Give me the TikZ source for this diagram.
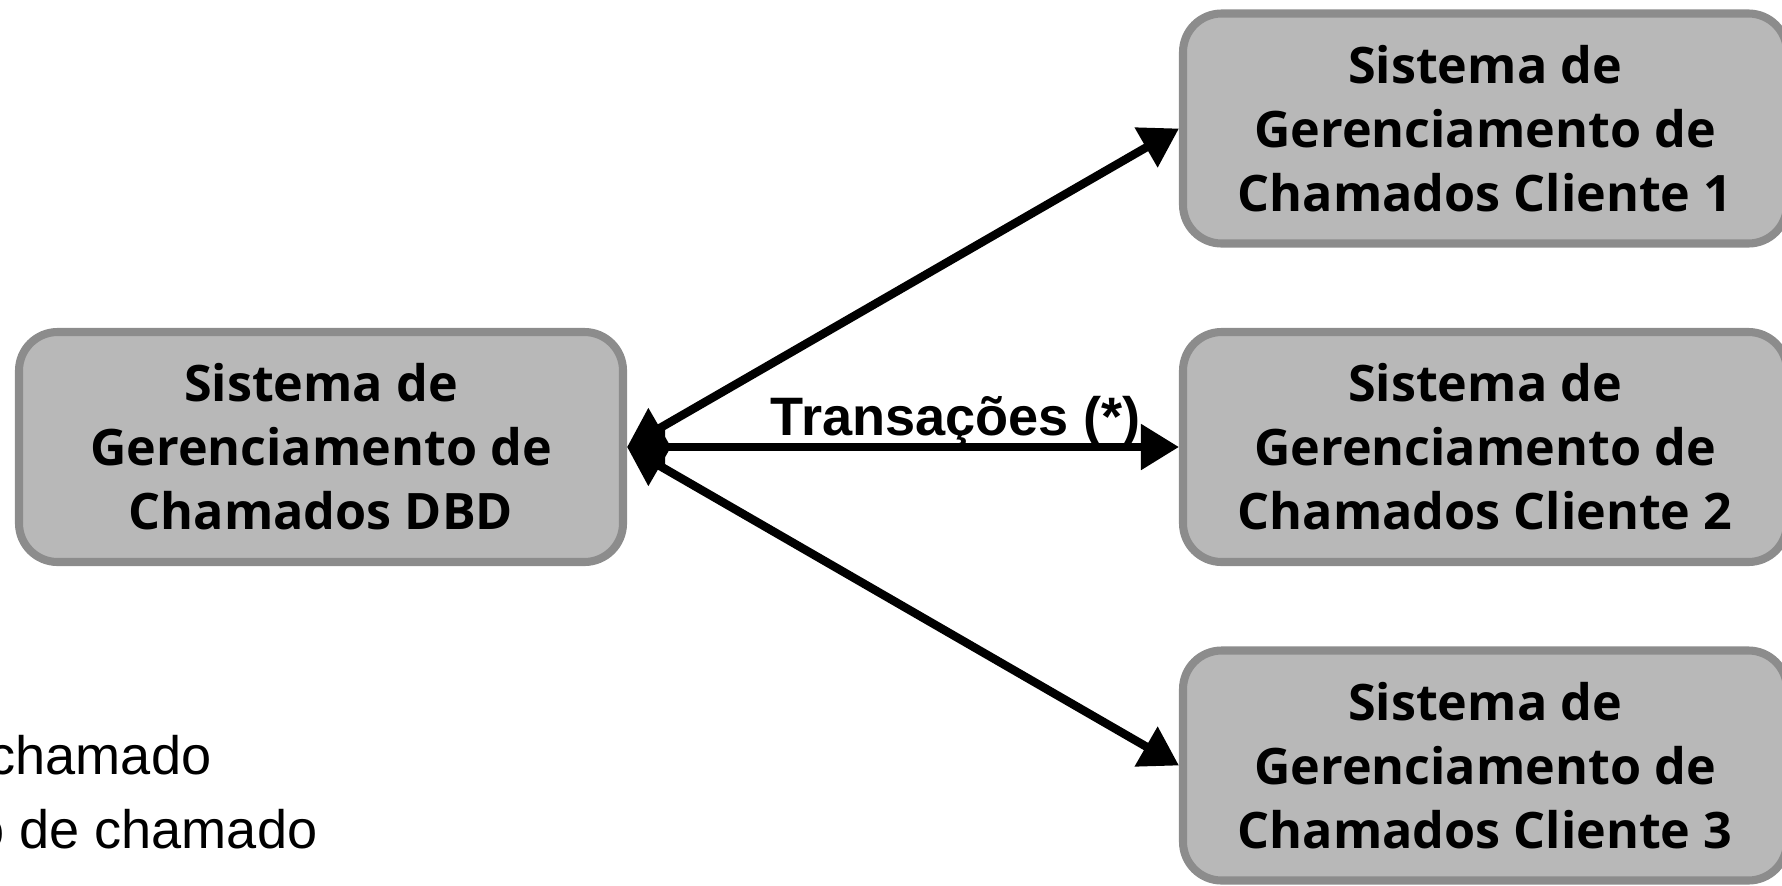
\documentclass[tikz,border=0pt]{standalone}
\usepackage{fontspec}
\setmainfont{Liberation Sans}
\newfontfamily\boxfont{Open Sans}
\usepackage{xcolor}
\usetikzlibrary{arrows.meta}

\definecolor{boxfill}{HTML}{B8B8B8}
\definecolor{boxline}{HTML}{8C8C8C}

\begin{document}
\begin{tikzpicture}[
  sysbox/.style={draw=boxline, fill=boxfill, line width=2.3pt, rounded corners=11pt,
                 minimum width=6.04cm, minimum height=2.30cm, align=center, inner sep=0pt,
                 font=\boxfont\bfseries\fontsize{14.3}{18.2}\selectfont},
  link/.style={{Triangle[length=3.8mm, width=4.4mm]}-{Triangle[length=3.8mm, width=4.4mm]},
               line width=2.4pt},
  lbl/.style={font=\bfseries\fontsize{15.4}{18}\selectfont, inner sep=0pt},
  note/.style={font=\fontsize{15.4}{18}\selectfont, inner sep=0pt, anchor=base east}
]
  \useasboundingbox (0,0) rectangle (17.82,8.85);

  % central system
  \node[sysbox] (dbd) at (3.21, 4.38) {Sistema de\\Gerenciamento de\\Chamados DBD};
  % client systems on the right
  \node[sysbox] (c1) at (14.85, 7.565) {Sistema de\\Gerenciamento de\\Chamados Cliente 1};
  \node[sysbox] (c2) at (14.85, 4.38) {Sistema de\\Gerenciamento de\\Chamados Cliente 2};
  \node[sysbox] (c3) at (14.85, 1.195) {Sistema de\\Gerenciamento de\\Chamados Cliente 3};

  % transactions between the systems
  \draw[link] (dbd.east) -- (c1.west);
  \draw[link] (dbd.east) -- node[lbl, pos=0.596, anchor=base, yshift=0.12cm] {Transações (*)} (c2.west);
  \draw[link] (dbd.east) -- (c3.west);

  % notes at the bottom left
  \node[note] (n1) at (2.12, 1.11) {chamado};
  \node[note] (n2) at (3.18, 0.37) {o de chamado};
\end{tikzpicture}
\end{document}
